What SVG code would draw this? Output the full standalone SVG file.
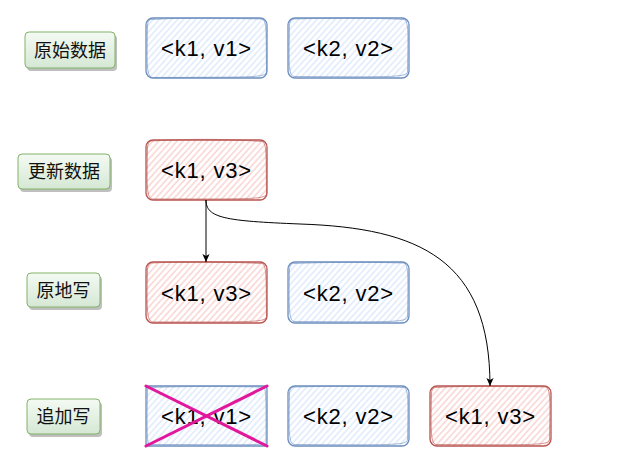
<svg xmlns="http://www.w3.org/2000/svg" width="630" height="469" viewBox="0 0 630 469">
<style>
.lbl{fill:url(#gg);stroke:#82b366;stroke-width:1}
.shd{fill:#000;opacity:0.25}
.lt{font-family:"Noto Sans CJK SC","Noto Sans",sans-serif;font-size:18px;fill:#111;text-anchor:middle}
.kv{font-family:"Liberation Sans",Arial,sans-serif;font-size:22px;letter-spacing:0.8px;fill:#000;text-anchor:middle}
.blue{fill:url(#hb);stroke:#6c8ebf;stroke-width:1.3}
.red{fill:url(#hr);stroke:#b85450;stroke-width:1.3}
.blue2{fill:none;stroke:#6c8ebf;stroke-width:0.9;opacity:0.7}
.red2{fill:none;stroke:#b85450;stroke-width:0.9;opacity:0.7}
.edge{fill:none;stroke:#000;stroke-width:1}
.cross{stroke:#e3179b;stroke-width:3;stroke-linecap:round}
</style>
<defs>
<linearGradient id="gg" x1="0" y1="0" x2="0" y2="1">
<stop offset="0" stop-color="#f4faf3"/>
<stop offset="1" stop-color="#d5e8d4"/>
</linearGradient>
<pattern id="hb" patternUnits="userSpaceOnUse" width="4.5" height="4.5" patternTransform="rotate(42)">
<rect width="4.5" height="4.5" fill="#fff"/>
<line x1="1" y1="0" x2="1" y2="4.5" stroke="#dae8fc" stroke-width="1.3"/>
</pattern>
<pattern id="hr" patternUnits="userSpaceOnUse" width="4.5" height="4.5" patternTransform="rotate(42)">
<rect width="4.5" height="4.5" fill="#fff"/>
<line x1="1" y1="0" x2="1" y2="4.5" stroke="#f8cecc" stroke-width="1.3"/>
</pattern>
<marker id="arr" viewBox="0 0 10 10" refX="10" refY="5" markerWidth="8" markerHeight="9" markerUnits="userSpaceOnUse" orient="auto">
<path d="M0,0.5 L10,5 L0,9.5 L2.5,5 z" fill="#000"/>
</marker>
</defs>

<g id="label-yuanshi">
<rect class="shd" x="27" y="35" width="90" height="36" rx="4"/>
<rect class="lbl" x="25" y="32" width="90" height="36" rx="4"/>
<text class="lt" x="70" y="56.5">原始数据</text>
</g>
<g id="label-gengxin">
<rect class="shd" x="20" y="157" width="92" height="35" rx="4"/>
<rect class="lbl" x="18" y="154" width="92" height="35" rx="4"/>
<text class="lt" x="64" y="178">更新数据</text>
</g>
<g id="label-yuandi">
<rect class="shd" x="29" y="276" width="73" height="34" rx="4"/>
<rect class="lbl" x="27" y="273" width="73" height="34" rx="4"/>
<text class="lt" x="63.5" y="296.5">原地写</text>
</g>
<g id="label-zhuijia">
<rect class="shd" x="29" y="402" width="73" height="35" rx="4"/>
<rect class="lbl" x="27" y="399" width="73" height="35" rx="4"/>
<text class="lt" x="63.5" y="423">追加写</text>
</g>

<g id="r1-k1v1">
<rect class="blue" x="146" y="18" width="121" height="60" rx="7"/>
<path class="blue2" d="M152,19.5 C190,17 230,18.5 262,19 C267,21 266,30 266.5,72 C265,78 250,77 152,77.5 C146,76 147,60 147.5,25 C148,20 150,19.5 152,19.5"/>
<text class="kv" x="206.5" y="56">&lt;k1, v1&gt;</text>
</g>
<g id="r1-k2v2">
<rect class="blue" x="288" y="18" width="121" height="60" rx="7"/>
<path class="blue2" d="M294,19 C330,18 370,17.5 404,19.5 C409,21 408,35 407.5,72 C406,77.5 390,77 294,76.5 C288,76 289,60 289.5,25 C290,20 292,19 294,19"/>
<text class="kv" x="348.5" y="56">&lt;k2, v2&gt;</text>
</g>
<g id="r2-k1v3">
<rect class="red" x="146" y="140" width="121" height="60" rx="7"/>
<path class="red2" d="M152,141 C190,138.5 230,139 262,141.5 C267,143 266,155 266.5,194 C265,199.5 250,199 152,199 C146,198 147,180 147.5,147 C148,142 150,141 152,141"/>
<text class="kv" x="206.5" y="178">&lt;k1, v3&gt;</text>
</g>
<g id="r3-k1v3">
<rect class="red" x="146" y="262" width="121" height="61" rx="7"/>
<path class="red2" d="M152,263 C190,261 230,262 262,263.5 C267,265 266,280 266.5,317 C265,322.5 250,322 152,322 C146,321 147,300 147.5,269 C148,264 150,263 152,263"/>
<text class="kv" x="206.5" y="300.5">&lt;k1, v3&gt;</text>
</g>
<g id="r3-k2v2">
<rect class="blue" x="288" y="262" width="121" height="61" rx="7"/>
<path class="blue2" d="M294,263.5 C330,262 370,262 404,263 C409,265 408,280 407.5,317 C406,322.5 390,322 294,321.5 C288,321 289,300 289.5,269 C290,264 292,263.5 294,263.5"/>
<text class="kv" x="348.5" y="300.5">&lt;k2, v2&gt;</text>
</g>
<g id="r4-k1v1">
<rect class="blue" x="146" y="386" width="121" height="60" rx="3"/>
<path class="blue2" d="M149,387.5 C190,386 230,386.5 264,387 C266.5,390 266,410 266,443 C264,445.5 240,444.5 149,444.5 C146.5,442 147,420 147.5,390 C148,388 148.5,387.5 149,387.5"/>
<text class="kv" x="206.5" y="424">&lt;k1, v1&gt;</text>
<line class="cross" x1="146" y1="386" x2="267" y2="446"/>
<line class="cross" x1="146" y1="446" x2="267" y2="386"/>
</g>
<g id="r4-k2v2">
<rect class="blue" x="288" y="386" width="121" height="60" rx="7"/>
<path class="blue2" d="M294,387 C330,386 370,386 404,387.5 C409,389 408,405 407.5,440 C406,445.5 390,445 294,444.5 C288,444 289,425 289.5,393 C290,388 292,387 294,387"/>
<text class="kv" x="348.5" y="424">&lt;k2, v2&gt;</text>
</g>
<g id="r4-k1v3">
<rect class="red" x="430" y="386" width="121" height="60" rx="7"/>
<path class="red2" d="M436,387.5 C470,385.5 510,386 546,387 C551,389 550,405 549.5,440 C548,445.5 530,445 436,444.5 C430,444 431,425 431.5,393 C432,388 434,387.5 436,387.5"/>
<text class="kv" x="490.5" y="424">&lt;k1, v3&gt;</text>
</g>

<g id="connectors">
<path class="edge" d="M206,200 L206,262" marker-end="url(#arr)"/>
<path class="edge" d="M206,200 C206,218 225,221 300,224 C420,228 490,260 490,386" marker-end="url(#arr)"/>
</g>
</svg>
